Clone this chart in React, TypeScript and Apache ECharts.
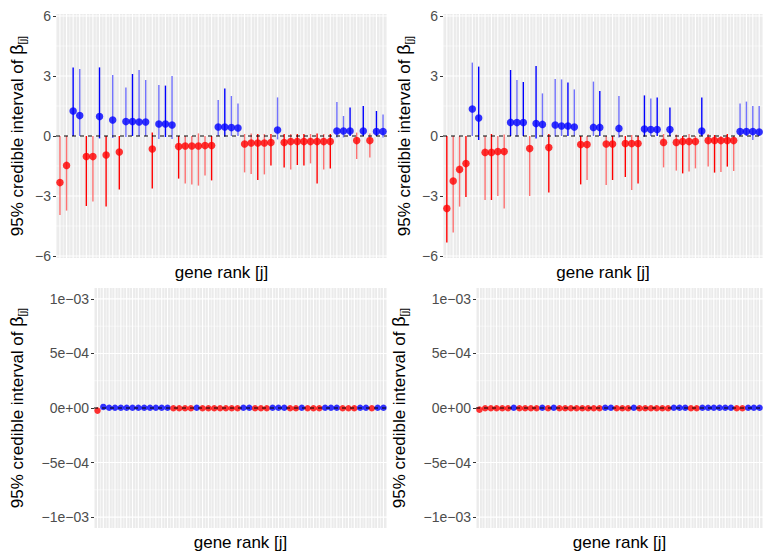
import { useEffect, useRef } from "react";
import * as echarts from "echarts";

// ---- Top-left panel (posterior means and 95% intervals) ----
const meanTL = [-2.33, -1.47, 1.25, 1.02, -1.03, -1.03, 0.97, -0.95, 0.8, -0.8, 0.72, 0.72, 0.7, 0.7, -0.65, 0.6, 0.6, 0.55, -0.53, -0.5, -0.5, -0.5, -0.48, -0.48, 0.45, 0.45, 0.42, 0.4, -0.4, -0.35, -0.35, -0.35, -0.33, 0.3, -0.33, -0.28, -0.28, -0.28, -0.28, -0.28, -0.28, -0.28, 0.25, 0.25, 0.25, -0.23, 0.25, -0.23, 0.22, 0.22];
const lowTL = [-3.95, -3.73, 0, 0, -3.5, -3.28, -0.12, -3.53, -0.1, -2.67, -0.05, 0, 0, 0, -2.62, -0.15, -0.05, -0.15, -2.13, -2.38, -2.42, -2.48, -1.97, -2.22, 0, -0.03, 0, 0, -1.82, -1.9, -2.2, -1.92, -1.48, -0.17, -1.58, -1.67, -1.45, -1.48, -1.37, -2.37, -1.67, -1.62, -0.07, -0.07, 0, -1.15, 0, -1.08, 0, -0.07];
const highTL = [0, 0, 3.43, 3.35, 0, 0, 3.43, 0, 3.05, 0, 2.43, 3.1, 3.3, 2.8, 0.17, 2.55, 2.52, 3.0, 0, 0, 0, 0.13, 0, 0, 1.8, 2.38, 2.0, 1.63, 0.1, 0.13, 0.1, 0.1, 0.1, 1.93, 0.1, 0.1, 0.1, 0.1, 0.1, 0.13, 0.1, 0.1, 1.7, 1.0, 1.42, 0.17, 1.5, 0.13, 1.25, 1.08];
const fadeTL = [1, 1, 0, 1, 0, 1, 0, 0, 1, 0, 1, 0, 1, 1, 0, 1, 0, 1, 0, 1, 1, 1, 1, 0, 1, 0, 1, 1, 1, 1, 0, 1, 0, 1, 0, 1, 0, 0, 1, 0, 1, 0, 1, 1, 0, 1, 0, 1, 0, 1];

// ---- Top-right panel ----
const meanTR = [-3.62, -2.25, -1.67, -1.38, 1.35, 0.9, -0.82, -0.82, -0.78, -0.78, 0.68, 0.67, 0.67, -0.63, 0.62, 0.58, -0.58, 0.55, 0.5, 0.5, 0.45, -0.43, -0.43, 0.43, 0.43, -0.4, -0.4, 0.38, -0.38, -0.38, -0.38, 0.35, 0.32, 0.32, -0.32, 0.32, -0.32, -0.28, -0.28, -0.28, 0.25, -0.23, -0.23, -0.23, -0.23, -0.23, 0.22, 0.22, 0.22, 0.2];
const lowTR = [-5.33, -4.82, -3.53, -3.05, 0, -0.2, -3.2, -3.2, -3.0, -3.62, 0, -0.03, 0, -3.0, -0.12, -0.03, -2.83, -0.03, 0, 0, 0, -2.42, -2.2, 0, 0, -2.45, -2.2, -0.08, -2.05, -2.7, -2.37, -0.03, 0, 0, -1.57, 0, -1.73, -1.87, -1.78, -1.62, 0, -1.53, -1.83, -1.8, -1.53, -1.75, 0, 0, -0.2, 0];
const highTR = [0, 0, 0, 0, 3.67, 3.47, 0, 0.1, 0, 0.07, 3.3, 2.8, 2.7, 0, 3.5, 2.13, 0.1, 2.85, 2.83, 2.67, 2.33, 0, 0, 2.72, 2.25, 0, 0, 2.0, 0, 0.05, 0, 2.03, 1.87, 1.92, 0.1, 1.43, 0.07, 0, 0.1, 0, 1.93, 0.1, 0.05, 0, 0.1, 0, 1.63, 1.72, 1.5, 1.5];
const fadeTR = [0, 1, 1, 0, 1, 0, 1, 0, 1, 1, 0, 1, 0, 1, 0, 1, 0, 1, 1, 0, 1, 0, 1, 1, 0, 1, 0, 1, 0, 1, 0, 0, 1, 0, 1, 0, 1, 0, 1, 1, 0, 1, 0, 1, 0, 1, 1, 1, 1, 1];

// ---- Bottom panels (all intervals collapse to ~0) ----
const meanBL = [-2.4e-5, 1e-5, 2e-6, 2e-6, 2e-6, 2e-6, 2e-6, 2e-6, 2e-6, 2e-6, 2e-6, 2e-6, 2e-6, -2e-6, -2e-6, -2e-6, -2e-6, 2e-6, -2e-6, -2e-6, -2e-6, -2e-6, -2e-6, -2e-6, -2e-6, 2e-6, 2e-6, -2e-6, -2e-6, -2e-6, 2e-6, 2e-6, 2e-6, -2e-6, -2e-6, 2e-6, -2e-6, -2e-6, -2e-6, 2e-6, 2e-6, 2e-6, -2e-6, -2e-6, -2e-6, 2e-6, 2e-6, -2e-6, 2e-6, 2e-6];
const meanBR = [-1.5e-5, -2e-6, -2e-6, -2e-6, -2e-6, -2e-6, 2e-6, -2e-6, -2e-6, -2e-6, -2e-6, 2e-6, -2e-6, 2e-6, -2e-6, -2e-6, -2e-6, -2e-6, -2e-6, -2e-6, -2e-6, -2e-6, 2e-6, 2e-6, -2e-6, -2e-6, -2e-6, 2e-6, -2e-6, -2e-6, -2e-6, -2e-6, -2e-6, -2e-6, 2e-6, 2e-6, 2e-6, -2e-6, -2e-6, 2e-6, 2e-6, 2e-6, 2e-6, 2e-6, 2e-6, -2e-6, -2e-6, 2e-6, 2e-6, 2e-6];

const yTicksTop = [-6, -3, 0, 3, 6];
const yTickLabelsTop = ["\u22126", "\u22123", "0", "3", "6"];
const yTicksBottom = [-1e-3, -5e-4, 0, 5e-4, 1e-3];
const yTickLabelsBottom = ["\u22121e\u221203", "\u22125e\u221204", "0e+00", "5e\u221204", "1e\u221203"];

const FONT = "Liberation Sans, Arial, Helvetica, sans-serif";
const RED = "#ff0000";
const BLUE = "#0000ff";

function App() {
  const ref = useRef<HTMLDivElement>(null);
  useEffect(() => {
    if (!ref.current) return;
    const chart = echarts.init(ref.current, null, { renderer: "svg" });

    const grids = [
      { left: 56, top: 14, width: 331, height: 244 },
      { left: 443, top: 14, width: 331, height: 244 },
      { left: 94, top: 288, width: 293, height: 242 },
      { left: 476, top: 288, width: 293, height: 242 },
    ];
    const yRange = [
      [-6.1, 6.1],
      [-6.1, 6.1],
      [-1.1e-3, 1.1e-3],
      [-1.1e-3, 1.1e-3],
    ];
    const yMinor = [
      [-4.5, -1.5, 1.5, 4.5],
      [-4.5, -1.5, 1.5, 4.5],
      [-7.5e-4, -2.5e-4, 2.5e-4, 7.5e-4],
      [-7.5e-4, -2.5e-4, 2.5e-4, 7.5e-4],
    ];
    const xMin = 0.4;
    const xMax = 50.6;

    const xAxes = grids.map((_, i) => ({
      type: "value",
      gridIndex: i,
      min: xMin,
      max: xMax,
      axisLabel: { show: false },
      axisTick: { show: false },
      axisLine: { show: false },
      splitLine: { show: false },
      name: "gene rank [j]",
      nameLocation: "middle",
      nameGap: 6,
      nameTextStyle: { fontSize: 17, color: "#000", fontFamily: FONT, verticalAlign: "top" },
    }));

    const yAxes = grids.map((_, i) => {
      const top = i < 2;
      const vals = top ? yTicksTop : yTicksBottom;
      const labs = top ? yTickLabelsTop : yTickLabelsBottom;
      return {
        type: "value",
        gridIndex: i,
        min: yRange[i][0],
        max: yRange[i][1],
        axisLine: { show: false },
        splitLine: { show: false },
        axisTick: { show: true, customValues: vals, length: 3, lineStyle: { color: "#333333", width: 1 } },
        axisLabel: {
          customValues: vals,
          fontSize: 14,
          color: "#4d4d4d",
          fontFamily: FONT,
          margin: 5,
          formatter: (v: number) => {
            let best = 0;
            for (let k = 1; k < vals.length; k++) if (Math.abs(vals[k] - v) < Math.abs(vals[best] - v)) best = k;
            return labs[best];
          },
        },
        name: "95% credible interval of {b|\u03b2}{s|[j]}",
        nameLocation: "middle",
        nameRotate: 90,
        nameGap: top ? 29 : 67,
        nameTextStyle: {
          fontSize: 17,
          color: "#000",
          fontFamily: FONT,
          rich: {
            b: { fontSize: 18, color: "#000", fontFamily: FONT },
            s: { fontSize: 11, color: "#000", fontFamily: FONT, verticalAlign: "top", padding: [9, 0, 0, 0] },
          },
        },
      };
    });

    const series: any[] = [];
    const panels = [
      { mean: meanTL, low: lowTL, high: highTL, fade: fadeTL },
      { mean: meanTR, low: lowTR, high: highTR, fade: fadeTR },
      { mean: meanBL, low: meanBL, high: meanBL, fade: meanBL.map(() => 0) },
      { mean: meanBR, low: meanBR, high: meanBR, fade: meanBR.map(() => 0) },
    ];

    panels.forEach((p, i) => {
      const y0 = yRange[i][0];
      const y1 = yRange[i][1];
      const majorY = i < 2 ? yTicksTop : yTicksBottom;
      const minorY = yMinor[i];
      series.push({
        type: "custom",
        xAxisIndex: i,
        yAxisIndex: i,
        silent: true,
        z: 1,
        clip: true,
        data: [[1, 0]],
        renderItem: (params: any, api: any) => {
          const children: any[] = [];
          for (let k = 1; k <= 101; k++) {
            const xv = k / 2;
            const a = api.coord([xv, y0]);
            const b = api.coord([xv, y1]);
            const major = k % 2 === 0;
            children.push({
              type: "line",
              shape: { x1: a[0], y1: a[1], x2: b[0], y2: b[1] },
              style: { stroke: "#ffffff", lineWidth: major ? 1.1 : 0.55 },
            });
          }
          const addH = (yv: number, w: number) => {
            const a = api.coord([xMin, yv]);
            const b = api.coord([xMax, yv]);
            children.push({
              type: "line",
              shape: { x1: a[0], y1: a[1], x2: b[0], y2: b[1] },
              style: { stroke: "#ffffff", lineWidth: w },
            });
          };
          minorY.forEach((v) => addH(v, 0.55));
          majorY.forEach((v) => addH(v, 1.1));
          return { type: "group", children };
        },
      });
      series.push({
        type: "custom",
        xAxisIndex: i,
        yAxisIndex: i,
        silent: true,
        z: 2,
        clip: true,
        data: p.mean.map((m, j) => [j + 1, p.low[j], p.high[j], p.fade[j], m]),
        encode: { x: 0, y: [1, 2] },
        renderItem: (params: any, api: any) => {
          const x = api.value(0);
          const a = api.coord([x, api.value(1)]);
          const b = api.coord([x, api.value(2)]);
          const neg = api.value(4) < 0;
          const faded = api.value(3) === 1;
          const col = neg ? (faded ? "rgba(255,0,0,0.55)" : RED) : faded ? "rgba(0,0,255,0.55)" : BLUE;
          return {
            type: "line",
            shape: { x1: a[0], y1: a[1], x2: b[0], y2: b[1] },
            style: { stroke: col, lineWidth: 1.4 },
          };
        },
      });
      series.push({
        type: "scatter",
        xAxisIndex: i,
        yAxisIndex: i,
        z: 3,
        symbolSize: i < 2 ? 7.5 : 6.5,
        data: p.mean.map((m, j) => ({
          value: [j + 1, m],
          itemStyle: { color: m < 0 ? RED : BLUE },
        })),
      });
      series.push({
        type: "custom",
        xAxisIndex: i,
        yAxisIndex: i,
        silent: true,
        z: 4,
        clip: true,
        data: [[1, 0]],
        renderItem: (params: any, api: any) => {
          const a = api.coord([xMin, 0]);
          const b = api.coord([xMax, 0]);
          return {
            type: "line",
            shape: { x1: a[0], y1: a[1], x2: b[0], y2: b[1] },
            style: { stroke: "#000000", lineWidth: 1, lineDash: [4, 4] },
          };
        },
      });
    });

    chart.setOption({
      animation: false,
      backgroundColor: "#ffffff",
      textStyle: { fontFamily: FONT },
      grid: grids.map((g) => ({ ...g, show: true, backgroundColor: "#ebebeb", borderWidth: 0, containLabel: false })),
      xAxis: xAxes,
      yAxis: yAxes,
      series,
    });
    return () => chart.dispose();
  }, []);
  return <div ref={ref} style={{ position: "fixed", left: 0, top: 0, width: 763, height: 552 }} />;
}

export default App;
